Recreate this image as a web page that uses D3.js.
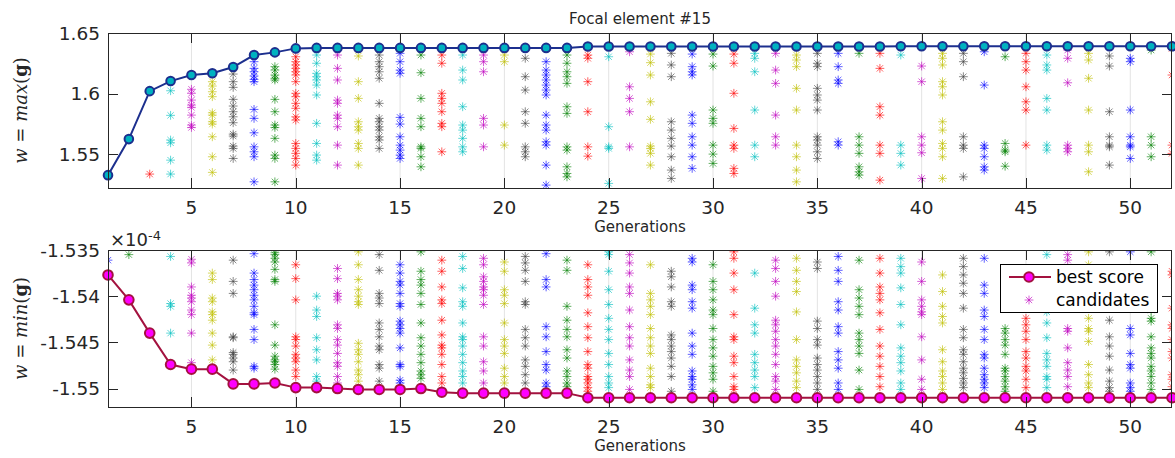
<!DOCTYPE html>
<html><head><meta charset="utf-8">
<script src="https://cdn.jsdelivr.net/npm/d3@7"></script>
<style>body{margin:0;background:#fff}svg{display:block}</style>
</head><body>
<script>
// ---------- DATA ----------
const generations = [1,2,3,4,5,6,7,8,9,10,11,12,13,14,15,16,17,18,19,20,21,22,23,24,25,26,27,28,29,30,31,32,33,34,35,36,37,38,39,40,41,42,43,44,45,46,47,48,49,50,51,52];
const xTicks = [5,10,15,20,25,30,35,40,45,50];
const yTicksMax = [1.55, 1.6, 1.65];
const yTicksMin = [-1.535, -1.54, -1.545, -1.55];
const candidateColors = ["#0000ff","#008000","#ff0000","#00bfbf","#bf00bf","#bfbf00","#404040"];

const bestMax = [1.5326,1.5624,1.6020,1.6103,1.6153,1.6167,1.6219,1.6318,1.6340,1.6373,
  1.6377,1.6377,1.6377,1.6377,1.6377,1.6377,1.6377,1.6377,1.6377,1.6377,1.6377,1.6377,1.6377,
  1.6389,1.6389,1.6389,1.6389,1.6389,1.6389,1.6389,1.6389,1.6389,1.6389,1.6389,1.6389,1.6389,1.6389,1.6389,
  1.6390,1.6390,1.6390,1.6390,1.6390,1.6390,1.6390,1.6390,1.6390,1.6390,1.6390,1.6390,1.6390,1.6390];

const bestMin = [-1.5377,-1.5404,-1.5440,-1.5474,-1.5479,-1.5479,-1.5495,-1.5495,-1.5494,-1.5499,
  -1.5499,-1.5500,-1.5501,-1.5501,-1.5501,-1.5500,-1.5504,-1.5505,-1.5505,-1.5505,-1.5505,-1.5505,-1.5505,
  -1.5510,-1.5510,-1.5510,-1.5510,-1.5510,-1.5510,-1.5510,-1.5510,-1.5510,-1.5510,-1.5510,-1.5510,-1.5510,-1.5510,-1.5510,
  -1.5510,-1.5510,-1.5510,-1.5510,-1.5510,-1.5510,-1.5510,-1.5510,-1.5510,-1.5510,-1.5510,-1.5510,-1.5510,-1.5510];

const candMax = [
  [],
  [],
  [1.5335],
  [1.6023,1.5820,1.5616,1.5593,1.5450,1.5335],
  [1.6035,1.6002,1.5946,1.5905,1.5886,1.5822,1.5740,1.5720],
  [1.6098,1.6062,1.6015,1.5974,1.5841,1.5822,1.5767,1.5748,1.5643,1.5478,1.5349],
  [1.6161,1.6098,1.6051,1.5952,1.5897,1.5850,1.5808,1.5759,1.5665,1.5649,1.5566,1.5547,1.5464],
  [1.6263,1.6208,1.6180,1.6145,1.6117,1.6098,1.5869,1.5795,1.5676,1.5560,1.5519,1.5478,1.5271],
  [1.6222,1.6194,1.6153,1.6126,1.6112,1.5952,1.5850,1.5740,1.5720,1.5630,1.5492,1.5464,1.5271],
  [1.6304,1.6263,1.6236,1.6208,1.6180,1.6153,1.6098,1.6002,1.5974,1.5919,1.5878,1.5808,1.5781,1.5588,1.5547,1.5506,1.5464,1.5409],
  [1.6318,1.6250,1.6167,1.6139,1.6112,1.6070,1.5988,1.5754,1.5588,1.5492,1.5450],
  [1.6318,1.6208,1.6112,1.5946,1.5919,1.5822,1.5795,1.5726,1.5574,1.5409],
  [1.6310,1.6098,1.5960,1.5767,1.5726,1.5698,1.5588,1.5547,1.5409],
  [1.6318,1.6263,1.6222,1.6180,1.6126,1.5919,1.5795,1.5767,1.5726,1.5698,1.5643,1.5616,1.5547],
  [1.6332,1.6263,1.6194,1.6167,1.5803,1.5748,1.5643,1.5574,1.5533,1.5492,1.5464],
  [1.6318,1.6172,1.5960,1.5795,1.5726,1.5560,1.5547,1.5478,1.5395],
  [1.6318,1.6250,1.6002,1.5960,1.5919,1.5850,1.5754,1.5726,1.5519],
  [1.6318,1.6194,1.6112,1.5891,1.5740,1.5698,1.5630,1.5560,1.5519],
  [1.6318,1.6263,1.6180,1.5795,1.5740,1.5560],
  [1.6318,1.6263,1.5740,1.5574],
  [1.6291,1.6139,1.6029,1.5850,1.5754,1.5560,1.5519,1.5478],
  [1.6263,1.6194,1.6153,1.6112,1.6070,1.6029,1.5988,1.5822,1.5740,1.5698,1.5602,1.5574,1.5409,1.5244],
  [1.6318,1.6250,1.6180,1.6139,1.6084,1.5891,1.5836,1.5560,1.5533,1.5395,1.5340,1.5312],
  [1.6318,1.6291,1.6098,1.5850,1.5560,1.5483],
  [1.6304,1.5726,1.5560,1.5547,1.5258],
  [1.6345,1.6056,1.5960,1.5850,1.5560],
  [1.6326,1.6255,1.6153,1.5932,1.5787,1.5566,1.5547,1.5506,1.5409],
  [1.6332,1.6236,1.6139,1.5767,1.5698,1.5630,1.5566,1.5478,1.5368,1.5299],
  [1.6326,1.6222,1.6180,1.6153,1.5822,1.5754,1.5643,1.5574,1.5478,1.5382],
  [1.6326,1.6227,1.5864,1.5795,1.5754,1.5574,1.5500,1.5423],
  [1.6326,1.6250,1.6002,1.5712,1.5574,1.5547,1.5382,1.5340],
  [1.6332,1.6291,1.6180,1.5864,1.5574,1.5478],
  [1.6332,1.6194,1.6084,1.5822,1.5643,1.5574],
  [1.6318,1.6277,1.6222,1.6043,1.5864,1.5574,1.5478,1.5368,1.5271],
  [1.6332,1.6250,1.6222,1.6043,1.5988,1.5946,1.5864,1.5643,1.5616,1.5574,1.5519,1.5464],
  [1.6332,1.6222,1.6112,1.6084,1.5602,1.5574],
  [1.6332,1.5643,1.5574,1.5506,1.5395,1.5354,1.5326],
  [1.6332,1.6208,1.5891,1.5822,1.5574,1.5506,1.5285],
  [1.6318,1.5574,1.5506,1.5409],
  [1.6227,1.6098,1.5643,1.5574,1.5511,1.5299],
  [1.6332,1.6291,1.6236,1.6098,1.6056,1.5988,1.5767,1.5698,1.5588,1.5547,1.5478,1.5299],
  [1.6332,1.6263,1.6139,1.5643,1.5574,1.5547,1.5312],
  [1.6345,1.6070,1.5574,1.5547,1.5478,1.5395,1.5368],
  [1.6304,1.5588,1.5533,1.5519,1.5400],
  [1.6332,1.6263,1.6194,1.6056,1.5932,1.5864,1.5574],
  [1.6318,1.6236,1.6194,1.5960,1.5864,1.5574,1.5533],
  [1.6359,1.6291,1.6089,1.5574,1.5547,1.5519],
  [1.6332,1.6277,1.6126,1.5864,1.5574,1.5519,1.5354],
  [1.6310,1.6227,1.5850,1.5643,1.5574,1.5560,1.5409],
  [1.6291,1.6263,1.5864,1.5643,1.5574,1.5560,1.5464],
  [1.6359,1.5643,1.5574,1.5478],
  [1.6373,1.6153,1.5574,1.5506]
];

const candMin = [
  [-1.5361],
  [-1.5355],
  [],
  [-1.5357,-1.5408,-1.5411,-1.5440],
  [-1.5360,-1.5364,-1.5390,-1.5399,-1.5402,-1.5406,-1.5415,-1.5420,-1.5440,-1.5472],
  [-1.5375,-1.5382,-1.5402,-1.5406,-1.5417,-1.5420,-1.5426,-1.5440,-1.5453,-1.5469],
  [-1.5361,-1.5384,-1.5397,-1.5444,-1.5445,-1.5461,-1.5463,-1.5467,-1.5471,-1.5480],
  [-1.5354,-1.5375,-1.5382,-1.5388,-1.5393,-1.5399,-1.5404,-1.5411,-1.5418,-1.5420,-1.5436,-1.5447,-1.5476,-1.5478],
  [-1.5353,-1.5355,-1.5359,-1.5363,-1.5371,-1.5382,-1.5384,-1.5431,-1.5453,-1.5465,-1.5469,-1.5471,-1.5474,-1.5479],
  [-1.5366,-1.5381,-1.5404,-1.5444,-1.5447,-1.5454,-1.5463,-1.5467,-1.5471,-1.5480,-1.5487],
  [-1.5400,-1.5415,-1.5422,-1.5445,-1.5458,-1.5469,-1.5487,-1.5492],
  [-1.5370,-1.5381,-1.5397,-1.5400,-1.5404,-1.5431,-1.5435,-1.5447,-1.5453,-1.5462,-1.5472,-1.5476,-1.5487,-1.5494],
  [-1.5352,-1.5366,-1.5382,-1.5393,-1.5400,-1.5406,-1.5409,-1.5451,-1.5458,-1.5463,-1.5471,-1.5480,-1.5485,-1.5492],
  [-1.5355,-1.5372,-1.5397,-1.5402,-1.5408,-1.5429,-1.5436,-1.5444,-1.5454,-1.5458,-1.5474,-1.5478,-1.5492],
  [-1.5366,-1.5375,-1.5384,-1.5388,-1.5397,-1.5408,-1.5411,-1.5427,-1.5431,-1.5435,-1.5440,-1.5456,-1.5474,-1.5476,-1.5491,-1.5494],
  [-1.5352,-1.5373,-1.5382,-1.5388,-1.5397,-1.5409,-1.5429,-1.5445,-1.5454,-1.5463,-1.5472,-1.5481,-1.5485,-1.5489],
  [-1.5361,-1.5373,-1.5390,-1.5404,-1.5408,-1.5426,-1.5442,-1.5453,-1.5456,-1.5463,-1.5474,-1.5487,-1.5494],
  [-1.5357,-1.5370,-1.5391,-1.5406,-1.5411,-1.5429,-1.5444,-1.5447,-1.5454,-1.5463,-1.5472,-1.5481,-1.5487,-1.5494],
  [-1.5359,-1.5366,-1.5379,-1.5384,-1.5390,-1.5393,-1.5399,-1.5409,-1.5444,-1.5454,-1.5471,-1.5481,-1.5494],
  [-1.5363,-1.5373,-1.5393,-1.5399,-1.5408,-1.5429,-1.5447,-1.5454,-1.5462,-1.5478,-1.5487,-1.5494],
  [-1.5357,-1.5364,-1.5372,-1.5384,-1.5406,-1.5409,-1.5436,-1.5445,-1.5454,-1.5469,-1.5476,-1.5485,-1.5494],
  [-1.5354,-1.5382,-1.5390,-1.5433,-1.5444,-1.5460,-1.5474,-1.5480,-1.5494,-1.5498],
  [-1.5361,-1.5372,-1.5411,-1.5426,-1.5436,-1.5444,-1.5458,-1.5467,-1.5481,-1.5487,-1.5494,-1.5498],
  [-1.5366,-1.5382,-1.5390,-1.5399,-1.5418,-1.5433,-1.5445,-1.5460,-1.5474,-1.5478,-1.5487,-1.5490,-1.5494,-1.5499,-1.5503],
  [-1.5352,-1.5355,-1.5373,-1.5393,-1.5409,-1.5424,-1.5436,-1.5447,-1.5462,-1.5474,-1.5487,-1.5494,-1.5499],
  [-1.5355,-1.5364,-1.5375,-1.5390,-1.5397,-1.5415,-1.5433,-1.5445,-1.5454,-1.5469,-1.5480,-1.5487,-1.5501],
  [-1.5366,-1.5397,-1.5404,-1.5411,-1.5420,-1.5435,-1.5445,-1.5454,-1.5462,-1.5478,-1.5487,-1.5496,-1.5499],
  [-1.5373,-1.5379,-1.5390,-1.5406,-1.5411,-1.5442,-1.5447,-1.5454,-1.5460,-1.5467,-1.5476,-1.5487,-1.5503],
  [-1.5359,-1.5363,-1.5388,-1.5393,-1.5406,-1.5413,-1.5440,-1.5454,-1.5463,-1.5481,-1.5487,-1.5490,-1.5496,-1.5501],
  [-1.5366,-1.5384,-1.5393,-1.5404,-1.5415,-1.5420,-1.5435,-1.5447,-1.5456,-1.5465,-1.5476,-1.5483,-1.5490,-1.5503],
  [-1.5352,-1.5359,-1.5375,-1.5393,-1.5420,-1.5444,-1.5447,-1.5465,-1.5472,-1.5487,-1.5498,-1.5501],
  [-1.5375,-1.5413,-1.5431,-1.5440,-1.5463,-1.5472,-1.5480,-1.5487,-1.5499],
  [-1.5361,-1.5370,-1.5384,-1.5400,-1.5426,-1.5431,-1.5438,-1.5447,-1.5454,-1.5463,-1.5474,-1.5487,-1.5492,-1.5501],
  [-1.5359,-1.5372,-1.5384,-1.5395,-1.5417,-1.5447,-1.5469,-1.5476,-1.5483,-1.5492,-1.5499],
  [-1.5363,-1.5370,-1.5427,-1.5435,-1.5447,-1.5453,-1.5467,-1.5474,-1.5480,-1.5487,-1.5494,-1.5501],
  [-1.5357,-1.5372,-1.5384,-1.5406,-1.5415,-1.5433,-1.5440,-1.5460,-1.5469,-1.5478,-1.5494,-1.5501],
  [-1.5361,-1.5393,-1.5402,-1.5411,-1.5420,-1.5440,-1.5447,-1.5454,-1.5462,-1.5480,-1.5501],
  [-1.5359,-1.5375,-1.5390,-1.5397,-1.5404,-1.5418,-1.5436,-1.5454,-1.5465,-1.5476,-1.5487,-1.5498],
  [-1.5359,-1.5368,-1.5375,-1.5391,-1.5409,-1.5431,-1.5456,-1.5465,-1.5472,-1.5481,-1.5494,-1.5501],
  [-1.5363,-1.5384,-1.5404,-1.5411,-1.5417,-1.5420,-1.5444,-1.5469,-1.5490,-1.5501],
  [-1.5377,-1.5395,-1.5411,-1.5422,-1.5429,-1.5458,-1.5471,-1.5481,-1.5487,-1.5494,-1.5501],
  [-1.5359,-1.5368,-1.5377,-1.5386,-1.5397,-1.5413,-1.5436,-1.5445,-1.5458,-1.5463,-1.5471,-1.5478,-1.5483,-1.5489,-1.5494,-1.5499],
  [-1.5359,-1.5388,-1.5397,-1.5415,-1.5422,-1.5436,-1.5447,-1.5463,-1.5467,-1.5478,-1.5485,-1.5490,-1.5494,-1.5499],
  [-1.5435,-1.5440,-1.5447,-1.5453,-1.5463,-1.5478,-1.5481,-1.5487,-1.5492,-1.5498,-1.5503],
  [-1.5424,-1.5431,-1.5438,-1.5447,-1.5460,-1.5467,-1.5476,-1.5481,-1.5490,-1.5499],
  [-1.5355,-1.5417,-1.5429,-1.5445,-1.5462,-1.5469,-1.5476,-1.5487,-1.5490,-1.5499],
  [-1.5355,-1.5361,-1.5435,-1.5438,-1.5456,-1.5472,-1.5480,-1.5487,-1.5498],
  [-1.5352,-1.5366,-1.5424,-1.5435,-1.5438,-1.5449,-1.5474,-1.5485,-1.5494,-1.5499],
  [-1.5352,-1.5426,-1.5444,-1.5454,-1.5465,-1.5480,-1.5492,-1.5499,-1.5503],
  [-1.5352,-1.5435,-1.5442,-1.5462,-1.5474,-1.5478,-1.5494,-1.5499,-1.5503],
  [-1.5352,-1.5415,-1.5424,-1.5427,-1.5444,-1.5456,-1.5462,-1.5467,-1.5476,-1.5481,-1.5487,-1.5494,-1.5501],
  [-1.5373,-1.5377,-1.5413,-1.5431,-1.5435,-1.5447,-1.5460,-1.5467,-1.5485,-1.5490,-1.5498]
];

// ---------- LAYOUT ----------
const W = 1175, H = 458;
const svg = d3.select("body").append("svg").attr("width", W).attr("height", H)
  .style("font-family", "'DejaVu Sans', sans-serif");

const left = 108, right = 1172;
const x = d3.scaleLinear().domain([1, 52]).range([left, right]);

const axColor = "#262626";
const tickLen = 10;
const tickFont = 18.5;

function asterisk(r) {
  const d = r * 0.72;
  return `M${-r},0H${r}M0,${-r}V${r}M${-d},${-d}L${d},${d}M${-d},${d}L${d},${-d}`;
}

function panel(cfg) {
  const { top, bottom, domain, ticks, fmt, cand, best, lineColor, markerFill, markerEdge, markerR, ylabel } = cfg;
  const y = d3.scaleLinear().domain(domain).range([bottom, top]);
  const g = svg.append("g");
  const clipId = "clip" + top;
  svg.append("clipPath").attr("id", clipId).append("rect")
    .attr("x", left).attr("y", top).attr("width", right - left).attr("height", bottom - top);

  // grid
  g.append("g").selectAll("line").data(xTicks).join("line")
    .attr("x1", d => x(d)).attr("x2", d => x(d)).attr("y1", top).attr("y2", bottom)
    .attr("stroke", "#e3e3e3").attr("stroke-width", 1);

  // candidates
  const pts = [];
  cand.forEach((vals, i) => vals.forEach(v => pts.push({ g: generations[i], v, c: candidateColors[i % 7] })));
  g.append("g").attr("clip-path", `url(#${clipId})`).selectAll("path").data(pts).join("path")
    .attr("transform", d => `translate(${x(d.g)},${y(d.v)})`)
    .attr("d", asterisk(4.4)).attr("stroke", d => d.c).attr("stroke-opacity", 0.62)
    .attr("stroke-width", 1).attr("fill", "none");

  // best line
  const line = d3.line().x((d, i) => x(generations[i])).y(d => y(d));
  g.append("path").datum(best).attr("d", line).attr("fill", "none")
    .attr("stroke", lineColor).attr("stroke-width", 2);
  g.append("g").selectAll("circle").data(best).join("circle")
    .attr("cx", (d, i) => x(generations[i])).attr("cy", d => y(d)).attr("r", markerR)
    .attr("fill", markerFill).attr("stroke", markerEdge).attr("stroke-width", 2);

  // box
  g.append("rect").attr("x", left + 0.5).attr("y", top + 0.5)
    .attr("width", right - left - 1).attr("height", bottom - top)
    .attr("fill", "none").attr("stroke", axColor).attr("stroke-width", 1);

  // x ticks (bottom and top, inward)
  const xt = g.append("g");
  xTicks.forEach(t => {
    const px = Math.round(x(t)) + 0.5;
    xt.append("line").attr("x1", px).attr("x2", px).attr("y1", bottom).attr("y2", bottom - tickLen).attr("stroke", axColor);
    xt.append("line").attr("x1", px).attr("x2", px).attr("y1", top).attr("y2", top + tickLen).attr("stroke", axColor);
    xt.append("text").attr("x", x(t)).attr("y", bottom + 26).attr("text-anchor", "middle")
      .attr("font-size", tickFont).attr("fill", "#262626").text(t);
  });
  // y ticks
  ticks.forEach(t => {
    const py = Math.round(y(t)) + 0.5;
    xt.append("line").attr("x1", left).attr("x2", left + tickLen).attr("y1", py).attr("y2", py).attr("stroke", axColor);
    xt.append("line").attr("x1", right).attr("x2", right - tickLen).attr("y1", py).attr("y2", py).attr("stroke", axColor);
    xt.append("text").attr("x", left - 8).attr("y", y(t) + 6.5).attr("text-anchor", "end")
      .attr("font-size", tickFont).attr("fill", "#262626").text(fmt(t));
  });
  // x label
  g.append("text").attr("x", (left + right) / 2).attr("y", bottom + 44).attr("text-anchor", "middle")
    .attr("font-size", 15).attr("fill", "#262626").text("Generations");
  // y label
  const cy = (top + bottom) / 2;
  const yl = g.append("text").attr("transform", `translate(27,${cy}) rotate(-90)`).attr("text-anchor", "middle")
    .attr("font-family", "'DejaVu Serif', serif").attr("font-size", 18).attr("fill", "#262626");
  yl.append("tspan").attr("font-style", "italic").text("w");
  yl.append("tspan").text(" = ");
  yl.append("tspan").attr("font-style", "italic").text(ylabel);
  yl.append("tspan").text("(");
  yl.append("tspan").attr("font-weight", "bold").text("g");
  yl.append("tspan").text(")");
  return { y, g };
}

// top panel
panel({
  top: 33, bottom: 188, domain: [1.522, 1.65], ticks: yTicksMax,
  fmt: d => String(d),
  cand: candMax, best: bestMax, lineColor: "#1c2f8e", markerFill: "#00b2c0", markerEdge: "#1c2f8e", markerR: 4.3, ylabel: "max"
});
svg.append("text").attr("x", (left + right) / 2).attr("y", 24).attr("text-anchor", "middle")
  .attr("font-size", 15).attr("fill", "#262626").text("Focal element #15");

// bottom panel
panel({
  top: 250, bottom: 407, domain: [-1.552, -1.535], ticks: yTicksMin,
  fmt: d => String(d),
  cand: candMin, best: bestMin, lineColor: "#a3123f", markerFill: "#ff00ff", markerEdge: "#a3123f", markerR: 4.8, ylabel: "min"
});
// exponent label
const ex = svg.append("text").attr("x", 110).attr("y", 246).attr("font-size", 18).attr("fill", "#262626");
ex.append("tspan").text("\u00d710");
ex.append("tspan").attr("dy", -6).attr("font-size", 13).text("-4");

// legend
const lg = svg.append("g");
lg.append("rect").attr("x", 1000.5).attr("y", 264.5).attr("width", 157).attr("height", 48)
  .attr("fill", "#fff").attr("stroke", "#000").attr("stroke-width", 1);
lg.append("line").attr("x1", 1009).attr("x2", 1051).attr("y1", 277).attr("y2", 277)
  .attr("stroke", "#a3123f").attr("stroke-width", 2);
lg.append("circle").attr("cx", 1029).attr("cy", 277).attr("r", 4.8)
  .attr("fill", "#ff00ff").attr("stroke", "#a3123f").attr("stroke-width", 2);
lg.append("path").attr("transform", "translate(1029,300)").attr("d", asterisk(4.4))
  .attr("stroke", "#bf00bf").attr("stroke-opacity", 0.62).attr("fill", "none");
lg.append("text").attr("x", 1056).attr("y", 283).attr("font-size", 17).attr("fill", "#000").text("best score");
lg.append("text").attr("x", 1056).attr("y", 306).attr("font-size", 17).attr("fill", "#000").text("candidates");
</script>
</body></html>
